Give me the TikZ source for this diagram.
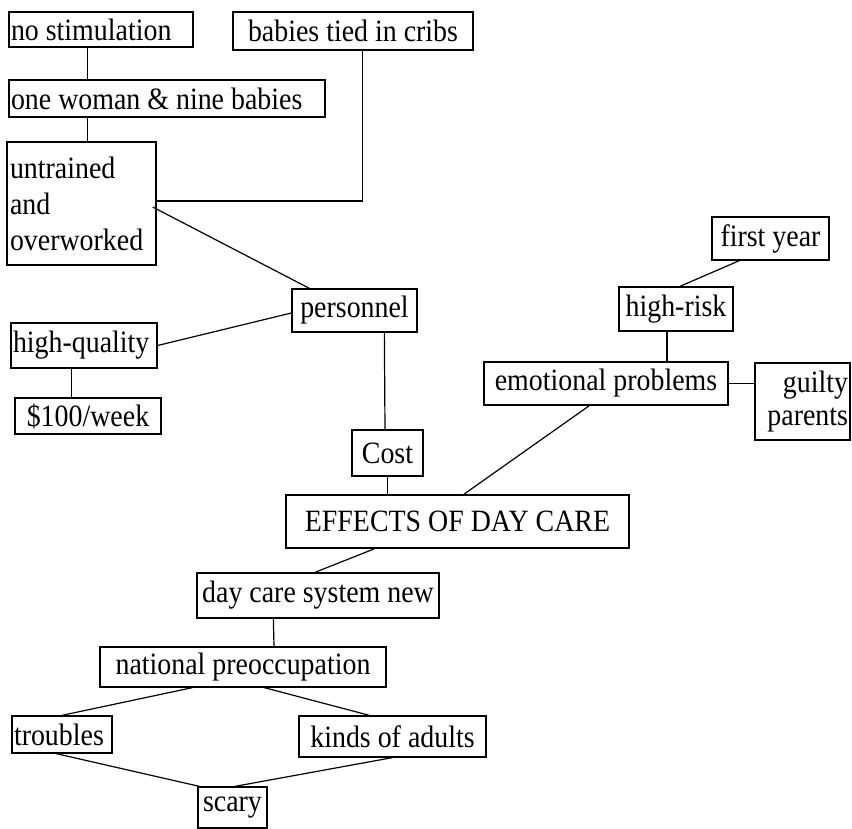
\documentclass[tikz,border=0pt]{standalone}
\usepackage{fontspec}
\setmainfont{Liberation Serif}[FakeStretch=0.9]
\usepackage{tikz}
\usetikzlibrary{positioning}

\begin{document}
\begin{tikzpicture}[x=1pt, y=-1pt,
    box/.style={draw, line width=1.3pt, inner xsep=2pt, inner ysep=0pt, font=\fontsize{31}{36}\selectfont},
    flushbox/.style={box, align=flush left},
    link/.style={line width=1.2pt}]
    \useasboundingbox (0,0) rectangle (852,829); % page frame
    % left branch: personnel
    \node[flushbox, text width=180pt, minimum height=35pt] (nostim) at (101,29.5) {no stimulation};
    \node[box, minimum width=240pt, minimum height=38pt] (cribs) at (353,31) {babies tied in cribs};
    \node[flushbox, text width=312pt, minimum height=37pt] (woman) at (167,98.5) {one woman \& nine babies};
    \node[flushbox, text width=143pt, minimum height=123pt, inner xsep=3pt] (untrained) at (81.5,203.5) {untrained\\and\\overworked};
    \node[box, minimum width=125pt, minimum height=43pt] (personnel) at (354.5,310.5) {personnel};
    \node[flushbox, text width=142pt, minimum height=45pt] (quality) at (84,345.5) {high-quality};
    \node[box, minimum width=146pt, minimum height=36pt] (week) at (88,416) {\$100/week};
    \node[box, minimum width=71pt, minimum height=46pt] (cost) at (387.5,453) {Cost};
    % centre
    \node[box, line width=1.8pt, minimum width=343pt, minimum height=53pt] (effects) at (457.5,521.5) {EFFECTS OF DAY CARE};
    % right branch
    \node[box, minimum width=117pt, minimum height=43pt] (firstyear) at (770.5,238.5) {first year};
    \node[box, minimum width=114pt, minimum height=44pt] (highrisk) at (676,309) {high-risk};
    \node[box, minimum width=244pt, minimum height=43pt] (emotional) at (606,383.5) {emotional problems};
    \node[box, align=flush right, text width=91pt, minimum height=77pt, font=\fontsize{31}{33}\selectfont] (guilty) at (802.5,401.5) {guilty\\parents};
    % lower branch
    \node[box, minimum width=242pt, minimum height=45pt] (daycare) at (318,595.5) {day care system new};
    \node[box, minimum width=286pt, minimum height=40pt] (national) at (243,667) {national preoccupation};
    \node[flushbox, text width=96pt, minimum height=37pt] (troubles) at (62,734.5) {troubles};
    \node[box, minimum width=187pt, minimum height=41pt] (kinds) at (392.5,736.5) {kinds of adults};
    \node[box, minimum width=69pt, minimum height=41pt] (scary) at (232.5,807.5) {scary};

    % connectors
    \draw[link] ([xshift=79pt]nostim.south west) -- ([xshift=79pt]woman.north west);
    \draw[link] ([xshift=79pt]woman.south west) -- ([xshift=81pt]untrained.north west);
    \draw[link] ([xshift=130pt]cribs.south west) |- ([yshift=2.5pt]untrained.east);
    \draw[link] ([xshift=-4pt,yshift=-3.5pt]untrained.east) -- ([xshift=18pt]personnel.north west);
    \draw[link] (quality.east) -- ([yshift=-2.5pt]personnel.west);
    \draw[link] ([xshift=61pt]quality.south west) -- ([xshift=57pt]week.north west);
    \draw[link] ([xshift=93pt]personnel.south west) -- ([xshift=-2.5pt]cost.north);
    \draw[link] (cost.south) -- (cost.south |- effects.north);
    \draw[link] ([xshift=28pt]firstyear.south west) -- ([xshift=4pt]highrisk.north);
    \draw[link] ([xshift=-9pt]highrisk.south) -- ([xshift=-9pt]highrisk.south |- emotional.north);
    \draw[link] (emotional.east) -- (emotional.east -| guilty.west);
    \draw[link] ([xshift=106pt]emotional.south west) -- ([xshift=179pt]effects.north west);
    \draw[link] ([xshift=89pt]effects.south west) -- ([xshift=-3pt]daycare.north);
    \draw[link] ([xshift=77pt]daycare.south west) -- ([xshift=31pt]national.north);
    \draw[link] ([xshift=93pt]national.south west) -- (troubles.north);
    \draw[link] ([xshift=165pt]national.south west) -- ([xshift=71pt]kinds.north west);
    \draw[link] ([xshift=45pt]troubles.south west) -- ([xshift=2pt]scary.north west);
    \draw[link] ([xshift=94pt]kinds.south west) -- ([xshift=2.5pt]scary.north);
\end{tikzpicture}
\end{document}
